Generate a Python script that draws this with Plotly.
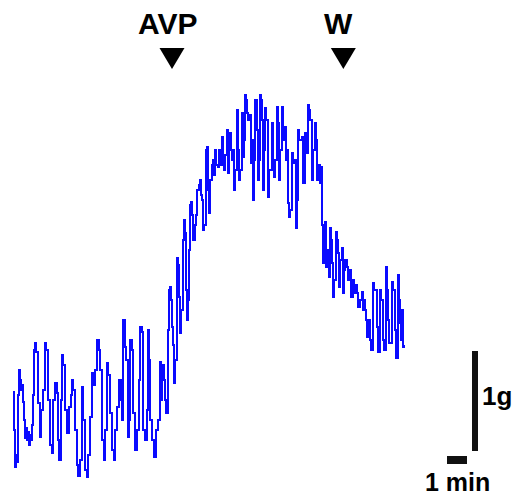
import plotly.graph_objects as go

# Isometric tension recording: time (s) vs tension (mg)
time_s = [0, 3, 6, 9, 12, 15, 18, 21, 24, 27, 30, 33, 36, 39, 42, 45, 48, 51, 54, 57,
          60, 63, 66, 69, 75, 81, 84, 90, 96, 99, 105, 111, 117, 120, 126, 132, 135, 138,
          144, 147, 150, 156, 162, 168, 174, 177, 180, 186, 192, 195, 201, 207, 210, 216,
          222, 225, 231, 237, 240, 246, 252, 258, 261, 267, 273, 276, 282, 285, 291, 297,
          303, 306, 312, 318, 324, 327, 330, 336, 339, 345, 348, 351, 357, 360, 366, 372,
          378, 381, 387, 390, 396, 402, 405, 408, 411, 417, 423, 429, 435, 441, 444, 447,
          453, 456, 459,
          465, 468, 471, 474, 477, 480, 483, 486, 492, 495, 498, 501, 504, 510, 513, 516,
          519, 522, 525, 528, 531, 534, 537, 540, 546, 549, 552, 558, 561, 564, 567, 570,
          573, 579, 582, 585, 588, 591, 597, 600, 603, 606, 609, 615, 618, 621, 627, 630,
          633, 636, 642, 645, 648, 651, 654, 657, 660, 663, 666, 672, 675, 678, 681, 687,
          690, 693, 696, 699, 702, 705, 711, 714, 717, 720, 723, 726, 729, 732, 735, 738,
          741, 744, 747, 750, 753, 756, 759, 765, 768, 777, 780, 783, 786, 792, 795, 798,
          801, 807, 810, 816, 819, 822, 825, 828, 831, 837, 840, 846, 849, 852, 855, 858,
          867, 870, 876, 879, 885, 888, 891, 897, 900, 906, 909, 912, 915, 921, 924,
          927, 930, 936, 939, 942, 945, 948, 951, 954, 957, 960, 963, 969, 972, 975, 978,
          981, 987, 990, 993, 996, 1002, 1005, 1011, 1014, 1020, 1023, 1026, 1032, 1035,
          1041, 1047, 1050, 1053, 1056, 1059, 1062, 1065, 1071, 1074, 1080, 1083, 1092,
          1095, 1101, 1104, 1110, 1113, 1119, 1122, 1125, 1128, 1137, 1140, 1146, 1149,
          1155, 1158, 1161, 1164, 1167, 1170, 1173]

tension_mg = [880, 500, 130, 250, 180, 850, 1100, 1000, 900, 950, 780, 600, 420, 520, 400,
              480, 350, 450, 400, 550, 850, 1300, 1370, 1280, 770, 430, 700, 900, 1370, 1300,
              800, 350, 270, 800, 970, 870, 400, 200, 800, 1250, 1150, 700, 470, 730, 850,
              1000, 900, 500, 150, 40, 200, 930, 600, 100, 30, 250, 630, 1070, 950, 1100,
              1400, 1300, 1100, 400, 200, 500, 1170, 1050, 670, 300, 200, 500, 730, 1000,
              800, 600, 1600, 1330, 1200, 430, 600, 1400, 1300, 670, 300, 500, 1000, 1530,
              1480, 500, 400, 700, 1500, 1200, 600, 400, 230, 500, 600, 1180, 800, 1150,
              1000, 800, 670,
              1500, 1900, 1930, 1800, 1530, 1350, 970, 1200, 2220, 2150, 1830, 1470, 1700,
              2400, 2600, 2470, 1900, 1600, 1800, 2300, 2750, 2780, 2650, 2400, 2550, 2650,
              2900, 2950, 3000, 2850, 2800, 2500, 2550, 3300, 3330, 2900, 2670, 3000, 3150,
              3200, 3050, 3300, 3150, 3130, 3300, 3150, 3430, 3200, 3100, 3250, 3500, 3070,
              3300, 3470, 3300, 3200, 3300, 2900, 3100, 3700, 3300, 3000, 3100, 3670, 3230,
              3400, 3850, 3800, 3670, 3600, 3650, 3170, 3400, 2800, 3200, 3800, 3800, 3500,
              3000, 3200, 3850, 3800, 3600, 2900, 3300, 3720, 3600, 2830, 3100, 3570, 3170,
              3030, 3200, 3730, 3570, 3000, 3300, 3730, 3400, 3530, 3200, 3300, 2770, 2630,
              2700, 3270, 3170, 3200, 2520, 2800, 3500, 3400, 3430, 2970, 3470, 3270, 3750,
              3700, 3600, 3000, 3300, 3570, 3400, 3000, 3150, 2970, 3130,
              2550, 2170, 2580, 2130, 2300, 2300, 2030, 2520, 2400, 2170, 1830, 2000, 2480,
              2400, 2270, 1930, 2200, 2320, 1870, 2100, 2200, 2130, 2000, 2100, 1830, 2000,
              1870, 1950, 1870, 1730, 1800, 1880, 1700, 1800, 1700, 1600, 1430, 1600, 1400,
              1300, 1970, 1900, 1530, 1280, 1900, 1800, 1400, 1300, 2130, 1900, 1600, 1370,
              1980, 1900, 1500, 1220, 2050, 1800, 1570, 1400, 1700, 1330, 1350]

# Events and calibration bars
event_labels = ["AVP", "W"]
event_times_s = [477, 991]
bar_time_s = 60        # horizontal bar = 1 min
bar_tension_mg = 1000  # vertical bar = 1 g
bar_labels = ["1 min", "1g"]

X_RANGE = [-39, 1515]
Y_RANGE = [-170, 4800]

fig = go.Figure()
fig.add_trace(go.Scatter(
    x=time_s, y=tension_mg, mode="lines",
    line=dict(color="rgb(10,10,255)", width=2, shape="hv"),
    hoverinfo="skip", showlegend=False))

FONT = "Liberation Sans, Arial, sans-serif"
label_y = 4570
tri_top = 4320
shapes = []
annotations = []
for lab, t in zip(event_labels, event_times_s):
    annotations.append(dict(x=t, y=label_y, xref="x", yref="y", text="<b>%s</b>" % lab,
                            showarrow=False, xshift=-5,
                            font=dict(family=FONT, size=30, color="black")))
    shapes.append(dict(type="path", xref="x", yref="y", xsizemode="pixel", ysizemode="pixel",
                       xanchor=t, yanchor=tri_top, path="M-12.5,0 L12.5,0 L0,-21 Z",
                       fillcolor="black", line=dict(width=0)))

# calibration bars
vbar_t = 1386
vbar_base = 290
shapes.append(dict(type="line", xref="x", yref="y", x0=vbar_t, x1=vbar_t,
                   y0=vbar_base, y1=vbar_base + bar_tension_mg,
                   line=dict(color="#111111", width=6)))
hbar_t0 = 1302
hbar_y = 200
shapes.append(dict(type="line", xref="x", yref="y", x0=hbar_t0, x1=hbar_t0 + bar_time_s,
                   y0=hbar_y, y1=hbar_y, line=dict(color="#111111", width=8)))
annotations.append(dict(x=hbar_t0 + bar_time_s / 2, y=-168, xref="x", yref="y",
                        yanchor="bottom", borderpad=0,
                        text="<b>%s</b>" % bar_labels[0], showarrow=False,
                        font=dict(family=FONT, size=25, color="black")))
annotations.append(dict(x=vbar_t + 15, y=vbar_base + bar_tension_mg * 0.55, xref="x", yref="y",
                        text="<b>%s</b>" % bar_labels[1], showarrow=False, xanchor="left",
                        font=dict(family=FONT, size=26, color="black")))

fig.update_layout(
    width=518, height=497, margin=dict(l=0, r=0, t=0, b=0),
    paper_bgcolor="white", plot_bgcolor="white",
    xaxis=dict(range=X_RANGE, visible=False, fixedrange=True),
    yaxis=dict(range=Y_RANGE, visible=False, fixedrange=True),
    shapes=shapes, annotations=annotations, hovermode=False)

fig.write_html("out.html")
